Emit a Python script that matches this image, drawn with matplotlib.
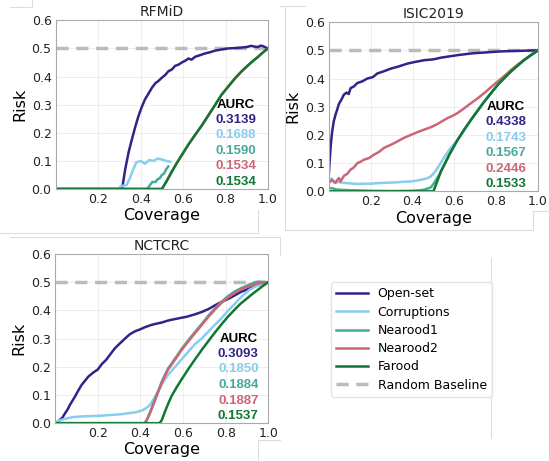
import matplotlib
matplotlib.use("Agg")
import matplotlib.pyplot as plt
from matplotlib.lines import Line2D

# ---- series names / colours
names = ["Open-set", "Corruptions", "Nearood1", "Nearood2", "Farood"]
colors = ["#332288", "#88CCEE", "#44AA99", "#CC6677", "#117733"]

# ---- RFMiD
rf_cov_open = [0.0, 0.3125, 0.328, 0.344, 0.36, 0.375, 0.39, 0.406, 0.42, 0.4375, 0.453, 0.469, 0.485, 0.5, 0.515,
               0.531, 0.547, 0.5625, 0.578, 0.594, 0.61, 0.625, 0.64, 0.656, 0.68, 0.703, 0.725, 0.75, 0.78, 0.8125,
               0.84, 0.875, 0.9, 0.92, 0.94, 0.953, 0.965, 0.977, 0.99, 1.0]
rf_risk_open = [0.0, 0.0, 0.073, 0.133, 0.18, 0.222, 0.26, 0.293, 0.318, 0.34, 0.36, 0.376, 0.385, 0.396, 0.405,
                0.419, 0.425, 0.438, 0.442, 0.45, 0.456, 0.464, 0.46, 0.47, 0.476, 0.482, 0.486, 0.492, 0.496, 0.50,
                0.501, 0.503, 0.505, 0.509, 0.506, 0.505, 0.51, 0.508, 0.503, 0.5]
rf_cov_corr = [0.0, 0.297, 0.305, 0.32, 0.335, 0.35, 0.365, 0.38, 0.40, 0.42, 0.44, 0.46, 0.48, 0.50, 0.52, 0.54]
rf_risk_corr = [0.0, 0.0, 0.01, 0.012, 0.015, 0.04, 0.07, 0.095, 0.10, 0.09, 0.103, 0.10, 0.108, 0.105, 0.10, 0.097]
rf_cov_near1 = [0.0, 0.43, 0.445, 0.455, 0.47, 0.48, 0.49, 0.50, 0.51, 0.52, 0.53]
rf_risk_near1 = [0.0, 0.0, 0.015, 0.025, 0.025, 0.035, 0.038, 0.05, 0.055, 0.07, 0.08]
rf_cov_far = [0.0, 0.5, 0.52, 0.547, 0.57, 0.594, 0.625, 0.656, 0.69, 0.72, 0.75, 0.78, 0.81, 0.844, 0.875, 0.906,
              0.93, 0.953, 0.975, 1.0]
rf_risk_far = [0.0, 0.0, 0.025, 0.062, 0.092, 0.121, 0.158, 0.192, 0.228, 0.263, 0.298, 0.334, 0.362, 0.393, 0.418,
               0.44, 0.456, 0.47, 0.485, 0.5]
rf_cov_near2 = rf_cov_far
rf_risk_near2 = rf_risk_far
rf_aurc = ["0.3139", "0.1688", "0.1590", "0.1534", "0.1534"]

# ---- ISIC2019
is_cov_open = [0.0, 0.003, 0.006, 0.01, 0.016, 0.024, 0.032, 0.04, 0.048, 0.06, 0.072, 0.085, 0.095, 0.104, 0.12,
               0.136, 0.16, 0.184, 0.21, 0.232, 0.26, 0.296, 0.33, 0.376, 0.42, 0.456, 0.5, 0.536, 0.58, 0.616, 0.66,
               0.696, 0.74, 0.776, 0.82, 0.856, 0.9, 0.95, 1.0]
is_risk_open = [0.06, 0.10, 0.13, 0.17, 0.213, 0.25, 0.272, 0.29, 0.31, 0.325, 0.343, 0.35, 0.345, 0.366, 0.372,
                0.384, 0.39, 0.40, 0.405, 0.418, 0.425, 0.435, 0.442, 0.453, 0.46, 0.465, 0.468, 0.474, 0.479, 0.483,
                0.487, 0.49, 0.492, 0.494, 0.496, 0.497, 0.498, 0.499, 0.5]
is_cov_corr = [0.0, 0.012, 0.024, 0.04, 0.072, 0.104, 0.136, 0.17, 0.2, 0.232, 0.264, 0.3, 0.328, 0.36, 0.392, 0.42,
               0.44, 0.46, 0.472, 0.485, 0.496, 0.508, 0.52, 0.532, 0.544, 0.56, 0.576, 0.616, 0.68, 0.744, 0.808,
               0.872, 0.936, 1.0]
is_risk_corr = [0.041, 0.045, 0.035, 0.033, 0.03, 0.028, 0.026, 0.027, 0.027, 0.029, 0.03, 0.031, 0.032, 0.034,
                0.035, 0.038, 0.041, 0.044, 0.047, 0.052, 0.059, 0.07, 0.083, 0.097, 0.112, 0.13, 0.148, 0.183,
                0.254, 0.319, 0.378, 0.426, 0.467, 0.5]
is_cov_near1 = [0.0, 0.02, 0.04, 0.1, 0.2, 0.3, 0.4, 0.44, 0.456, 0.472, 0.488, 0.496, 0.504, 0.516, 0.528, 0.54,
                0.552, 0.576, 0.616, 0.68, 0.744, 0.808, 0.872, 0.936, 1.0]
is_risk_near1 = [0.012, 0.01, 0.006, 0.004, 0.002, 0.001, 0.002, 0.004, 0.006, 0.01, 0.014, 0.022, 0.03, 0.045,
                 0.059, 0.077, 0.095, 0.13, 0.183, 0.254, 0.319, 0.378, 0.426, 0.467, 0.5]
is_cov_near2 = [0.0, 0.008, 0.016, 0.024, 0.032, 0.04, 0.048, 0.056, 0.064, 0.072, 0.088, 0.104, 0.12, 0.136, 0.152,
                0.168, 0.192, 0.216, 0.24, 0.264, 0.296, 0.328, 0.36, 0.392, 0.424, 0.456, 0.49, 0.52, 0.545, 0.568,
                0.592, 0.616, 0.648, 0.68, 0.712, 0.744, 0.776, 0.808, 0.84, 0.872, 0.904, 0.936, 0.968, 1.0]
is_risk_near2 = [0.03, 0.035, 0.041, 0.033, 0.03, 0.04, 0.047, 0.035, 0.045, 0.055, 0.062, 0.077, 0.085, 0.10, 0.105,
                 0.112, 0.118, 0.13, 0.14, 0.154, 0.165, 0.177, 0.19, 0.2, 0.21, 0.219, 0.228, 0.239, 0.25, 0.26,
                 0.268, 0.278, 0.295, 0.313, 0.33, 0.349, 0.37, 0.39, 0.41, 0.431, 0.45, 0.467, 0.484, 0.5]
is_cov_far = [0.0, 0.5, 0.518, 0.536, 0.556, 0.576, 0.596, 0.616, 0.648, 0.68, 0.712, 0.744, 0.776, 0.808, 0.84,
              0.872, 0.904, 0.936, 0.968, 1.0]
is_risk_far = [0.0, 0.0, 0.035, 0.071, 0.10, 0.13, 0.157, 0.183, 0.22, 0.254, 0.287, 0.319, 0.349, 0.378, 0.403,
               0.426, 0.447, 0.467, 0.484, 0.5]
is_aurc = ["0.4338", "0.1743", "0.1567", "0.2446", "0.1533"]

# ---- NCTCRC
nc_cov_open = [0.0, 0.008, 0.023, 0.035, 0.047, 0.06, 0.07, 0.082, 0.094, 0.11, 0.125, 0.14, 0.156, 0.18, 0.2, 0.22,
               0.24, 0.26, 0.28, 0.3, 0.328, 0.35, 0.375, 0.4, 0.42, 0.45, 0.47, 0.5, 0.53, 0.56, 0.594, 0.62, 0.656,
               0.69, 0.72, 0.75, 0.78, 0.81, 0.84, 0.87, 0.906, 0.94, 0.97, 1.0]
nc_risk_open = [0.0, 0.002, 0.012, 0.02, 0.035, 0.05, 0.065, 0.08, 0.095, 0.117, 0.136, 0.15, 0.165, 0.18, 0.19, 0.21,
                0.225, 0.245, 0.265, 0.28, 0.3, 0.315, 0.326, 0.333, 0.34, 0.348, 0.352, 0.357, 0.364, 0.369, 0.374,
                0.378, 0.386, 0.395, 0.405, 0.418, 0.43, 0.44, 0.452, 0.465, 0.476, 0.487, 0.494, 0.5]
nc_cov_corr = [0.0, 0.015, 0.03, 0.06, 0.09, 0.125, 0.16, 0.2, 0.24, 0.28, 0.31, 0.34, 0.37, 0.39, 0.41, 0.42, 0.435,
               0.445, 0.458, 0.47, 0.485, 0.5, 0.515, 0.53, 0.555, 0.578, 0.6, 0.625, 0.656, 0.6875, 0.72, 0.75, 0.78,
               0.8125, 0.845, 0.875, 0.91, 0.94, 0.97, 1.0]
nc_risk_corr = [0.0, 0.008, 0.012, 0.018, 0.022, 0.024, 0.025, 0.026, 0.028, 0.03, 0.032, 0.035, 0.038, 0.041, 0.046,
                0.05, 0.058, 0.065, 0.08, 0.095, 0.115, 0.136, 0.155, 0.171, 0.193, 0.213, 0.232, 0.254, 0.28, 0.30,
                0.326, 0.349, 0.372, 0.40, 0.425, 0.449, 0.472, 0.485, 0.494, 0.5]
nc_cov_near1 = [0.0, 0.42, 0.43, 0.445, 0.458, 0.47, 0.485, 0.5, 0.515, 0.53, 0.547, 0.5625, 0.58, 0.594, 0.625,
                0.656, 0.69, 0.72, 0.75, 0.78, 0.81, 0.84, 0.87, 0.906, 0.93, 0.953, 0.975, 1.0]
nc_risk_near1 = [0.0, 0.0, 0.012, 0.038, 0.063, 0.087, 0.117, 0.146, 0.171, 0.194, 0.212, 0.229, 0.248, 0.264, 0.294,
                 0.323, 0.354, 0.382, 0.407, 0.43, 0.45, 0.466, 0.478, 0.49, 0.497, 0.502, 0.501, 0.5]
nc_cov_near2 = [0.0, 0.42, 0.43, 0.445, 0.458, 0.47, 0.485, 0.5, 0.515, 0.53, 0.547, 0.5625, 0.58, 0.594, 0.625,
                0.656, 0.69, 0.72, 0.75, 0.78, 0.81, 0.84, 0.87, 0.906, 0.93, 0.953, 0.975, 1.0]
nc_risk_near2 = [0.0, 0.0, 0.01, 0.035, 0.06, 0.083, 0.113, 0.142, 0.167, 0.19, 0.208, 0.225, 0.244, 0.26, 0.29,
                 0.319, 0.35, 0.378, 0.403, 0.426, 0.445, 0.461, 0.474, 0.485, 0.491, 0.496, 0.498, 0.5]
nc_cov_far = [0.0, 0.49, 0.5, 0.516, 0.53, 0.547, 0.57, 0.594, 0.625, 0.656, 0.69, 0.72, 0.75, 0.78, 0.81, 0.84,
              0.87, 0.906, 0.93, 0.953, 0.975, 1.0]
nc_risk_far = [0.0, 0.0, 0.01, 0.042, 0.068, 0.097, 0.127, 0.156, 0.192, 0.226, 0.262, 0.292, 0.322, 0.35, 0.377,
               0.401, 0.424, 0.446, 0.461, 0.474, 0.487, 0.5]
nc_aurc = ["0.3093", "0.1850", "0.1884", "0.1887", "0.1537"]

panels = [
    ("RFMiD", [0.1015, 0.590, 0.3867, 0.366],
     [(rf_cov_open, rf_risk_open), (rf_cov_corr, rf_risk_corr), (rf_cov_near1, rf_risk_near1),
      (rf_cov_near2, rf_risk_near2), (rf_cov_far, rf_risk_far)], rf_aurc, 0.85),
    ("ISIC2019", [0.599, 0.585, 0.381, 0.367],
     [(is_cov_open, is_risk_open), (is_cov_corr, is_risk_corr), (is_cov_near1, is_risk_near1),
      (is_cov_near2, is_risk_near2), (is_cov_far, is_risk_far)], is_aurc, 0.845),
    ("NCTCRC", [0.1002, 0.082, 0.3885, 0.367],
     [(nc_cov_open, nc_risk_open), (nc_cov_corr, nc_risk_corr), (nc_cov_near1, nc_risk_near1),
      (nc_cov_near2, nc_risk_near2), (nc_cov_far, nc_risk_far)], nc_aurc, 0.86),
]

fig = plt.figure(figsize=(5.49, 4.61), dpi=100)
fig.patch.set_facecolor("white")

for title, rect, series, aurc, tx in panels:
    ax = fig.add_axes(rect)
    base = ax.axhline(0.5, color="#BBBBBB", lw=2.5, ls=(0, (3.5, 2.2)), zorder=1, label="Random Baseline")
    handles = []
    for (cov, risk), nm, col in zip(series, names, colors):
        h, = ax.plot(cov, risk, color=col, lw=1.8, label=nm, zorder=2)
        handles.append(h)
    handles.append(base)
    ax.set_xlim(0, 1)
    ax.set_ylim(0, 0.6)
    ax.set_xticks([0.2, 0.4, 0.6, 0.8, 1.0])
    ax.set_yticks([0.0, 0.1, 0.2, 0.3, 0.4, 0.5, 0.6])
    ax.tick_params(length=0, pad=3, labelsize=9, labelcolor="#222222")
    ax.grid(True, color="#ebebeb", lw=0.6)
    ax.set_axisbelow(True)
    for sp in ax.spines.values():
        sp.set_color("#aaaaaa")
        sp.set_linewidth(0.8)
    ax.set_title(title, fontsize=10, pad=3, color="#222222")
    ax.set_xlabel("Coverage", fontsize=11.5, labelpad=1.5)
    ax.set_ylabel("Risk", fontsize=11.5, labelpad=3)
    ax.text(tx, 0.50, "AURC", transform=ax.transAxes, ha="center", va="center",
            family="Liberation Sans", weight="bold", fontsize=9.5, color="black")
    for i, (val, col) in enumerate(zip(aurc, colors)):
        ax.text(tx, 0.41 - 0.092 * i, val, transform=ax.transAxes, ha="center", va="center",
                family="Liberation Sans", weight="bold", fontsize=9.5, color=col)
    if title == "RFMiD":
        leg_handles = handles

fig.legend(handles=leg_handles, loc="upper left", bbox_to_anchor=(0.592, 0.401), fontsize=9,
           handlelength=2.5, labelspacing=0.42, frameon=True, edgecolor="#dddddd", fancybox=True)

# light frame lines from the screenshot collage (pixel coords)
W, H = 549.0, 461.0
frame_segments = [
    ((285, 6), (285, 230)), ((285, 230), (533, 230)), ((533, 230), (533, 211)), ((533, 211), (549, 211)),
    ((280, 6), (305, 6)), ((10, 7), (32, 7)), ((32, 7), (32, 0)),
    ((258, 210), (258, 233)), ((0, 233), (258, 233)), ((10, 237), (280, 237)), ((280, 237), (280, 255)),
    ((491, 258), (491, 438)), ((258, 440), (280, 440)), ((258, 440), (258, 461)),
]
for (x0, y0), (x1, y1) in frame_segments:
    fig.add_artist(Line2D([x0 / W, x1 / W], [1 - y0 / H, 1 - y1 / H], color="#dddddd", lw=0.8,
                          transform=fig.transFigure))

fig.savefig("out.png", dpi=100)
